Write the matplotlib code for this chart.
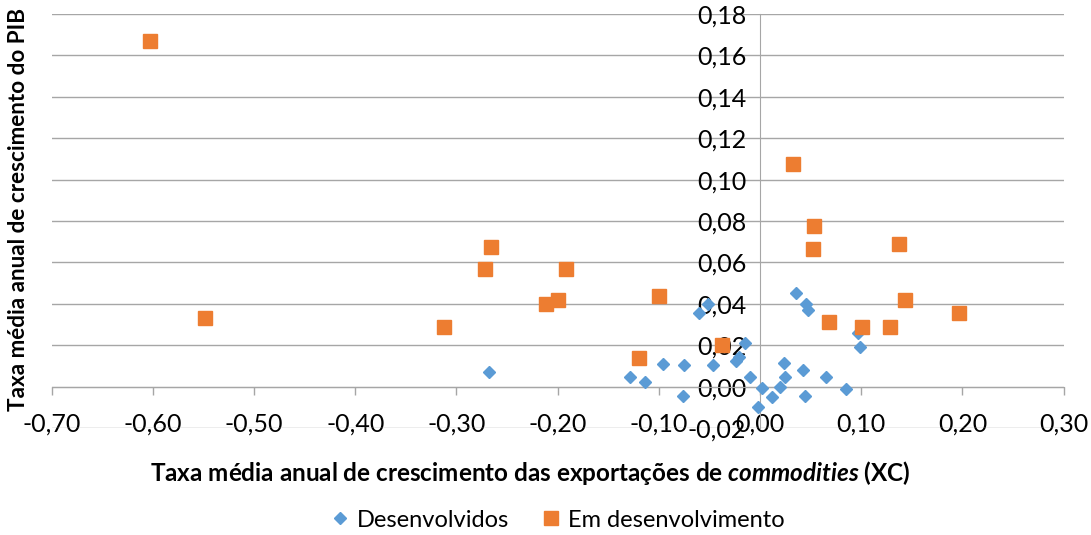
import matplotlib
matplotlib.use("Agg")
import matplotlib.pyplot as plt
from matplotlib.ticker import FixedLocator, FuncFormatter

plt.rcParams['font.family'] = ['Lato', 'DejaVu Sans']
plt.rcParams['axes.unicode_minus'] = False
plt.rcParams['mathtext.fontset'] = 'custom'
plt.rcParams['mathtext.it'] = 'Lato:italic:bold'
plt.rcParams['mathtext.rm'] = 'Lato:bold'
plt.rcParams['mathtext.bf'] = 'Lato:bold'

# Desenvolvidos (x = XC, y = PIB)
dev_x = [-0.268, -0.129, -0.114, -0.096, -0.075, -0.076, -0.060, -0.051, -0.046,
         -0.024, -0.021, -0.015, -0.010, -0.002, 0.002, 0.012, 0.020, 0.025,
         0.024, 0.036, 0.045, 0.047, 0.042, 0.044, 0.065, 0.085, 0.097, 0.099]
dev_y = [0.007, 0.0045, 0.0024, 0.011, 0.0105, -0.0045, 0.0355, 0.040, 0.0105,
         0.0126, 0.0142, 0.021, 0.0048, -0.0097, -0.0008, -0.0048, 0.000, 0.0048,
         0.0116, 0.045, 0.040, 0.037, 0.0081, -0.0043, 0.0048, -0.0013, 0.0258, 0.019]

# Em desenvolvimento
emd_x = [-0.603, -0.549, -0.312, -0.272, -0.266, -0.212, -0.200, -0.192, -0.100,
         -0.120, -0.0375, 0.033, 0.053, 0.052, 0.068, 0.101, 0.128, 0.137, 0.143, 0.197]
emd_y = [0.167, 0.033, 0.029, 0.057, 0.0675, 0.040, 0.042, 0.057, 0.044,
         0.014, 0.020, 0.1075, 0.0775, 0.0665, 0.031, 0.029, 0.029, 0.069, 0.042, 0.0355]

x_ticks = [-0.70, -0.60, -0.50, -0.40, -0.30, -0.20, -0.10, 0.00, 0.10, 0.20, 0.30]
y_ticks = [-0.02, 0.00, 0.02, 0.04, 0.06, 0.08, 0.10, 0.12, 0.14, 0.16, 0.18]

series_names = ["Desenvolvidos", "Em desenvolvimento"]
colors = ["#5B9BD5", "#ED7D31"]

fig = plt.figure(figsize=(10.91, 5.35), dpi=100)
ax = fig.add_axes([0.0474, 0.2, 0.9275, 0.7738])

ax.plot(dev_x, dev_y, linestyle='none', marker='D', markersize=6.3,
        color=colors[0], label=series_names[0], zorder=3)
ax.plot(emd_x, emd_y, linestyle='none', marker='s', markersize=10,
        color=colors[1], label=series_names[1], zorder=3)

ax.set_xlim(-0.70, 0.30)
ax.set_ylim(-0.02, 0.18)
ax.xaxis.set_major_locator(FixedLocator(x_ticks))
ax.yaxis.set_major_locator(FixedLocator(y_ticks))
fmt = FuncFormatter(lambda v, p: f"{v:.2f}".replace('.', ','))
ax.xaxis.set_major_formatter(fmt)
ax.yaxis.set_major_formatter(fmt)

grid_c = "#A6A6A6"
ax.grid(axis='y', color=grid_c, linewidth=1.0, zorder=0)
ax.set_axisbelow(True)
for s in ['top', 'right']:
    ax.spines[s].set_visible(False)
ax.spines['left'].set_position(('data', 0))
ax.spines['bottom'].set_position(('data', 0))
ax.spines['left'].set_color(grid_c)
ax.spines['bottom'].set_color(grid_c)
ax.tick_params(axis='x', length=6, width=1, color=grid_c, pad=13, labelsize=18, labelcolor='#000000')
ax.tick_params(axis='y', length=0, pad=10, labelsize=18, labelcolor='#000000')

fig.text(0.486, 0.116,
         r"Taxa média anual de crescimento das exportações de $\mathit{commodities}$ (XC)",
         ha='center', va='center', fontsize=17.5, fontweight='bold')
fig.text(0.0165, 0.608, "Taxa média anual de crescimento do PIB",
         ha='center', va='center', rotation=90, fontsize=16.2, fontweight='bold')

fig.legend(loc='center', bbox_to_anchor=(0.51, 0.028), ncol=2, frameon=False,
           fontsize=17, handletextpad=0.2, columnspacing=1.3, handlelength=1.0)

fig.savefig("out.png", dpi=100)
